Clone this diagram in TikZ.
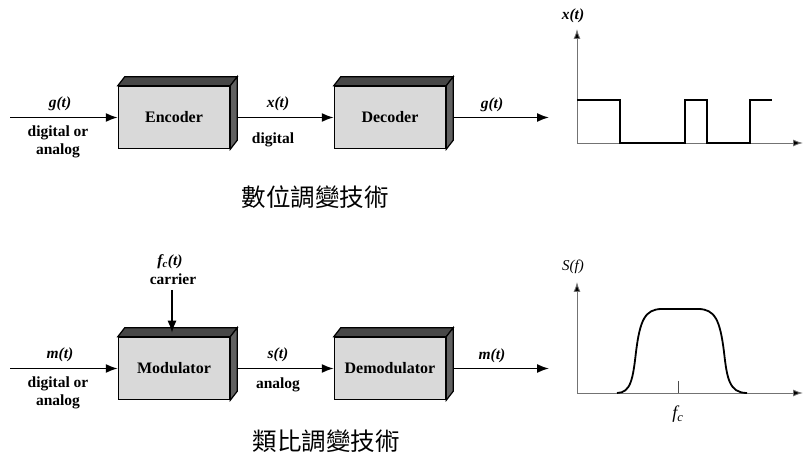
\documentclass[tikz,border=0pt]{standalone}
\usepackage{fontspec}
\setmainfont{Liberation Serif}
\newfontfamily\cjk{Noto Sans CJK TC}
\usetikzlibrary{arrows.meta}

\begin{document}
\begin{tikzpicture}[x=1pt,y=-1pt,
  blockface/.style={draw, line width=1.5pt, fill=black!15, minimum width=111pt,
    minimum height=62pt, inner sep=0pt, font=\fontsize{16}{18}\selectfont\bfseries},
  topface/.style={draw, line width=1.2pt, fill=black!72},
  sideface/.style={draw, line width=1.2pt, fill=black!62},
  sig/.style={line width=1.6pt, -{Latex[length=12pt,width=9pt]}},
  lbl/.style={font=\fontsize{15.5}{17}\selectfont\bfseries, align=center, inner sep=0pt},
  ilbl/.style={font=\fontsize{15.5}{17}\selectfont\bfseries\itshape, inner sep=0pt},
  axis/.style={line width=0.9pt, draw=black!55, -{Latex[length=10pt,width=7pt,fill=black]}},
  wave/.style={line width=1.8pt, line join=miter},
  title/.style={font=\cjk\fontsize{24.5}{26}\selectfont, inner sep=0pt}
]
\useasboundingbox (0,0) rectangle (807,454);

% ---------- digital modulation chain ----------
\node[blockface] (enc) at (174,117.5) {Encoder};
\node[blockface] (dec) at (390,117.5) {Decoder};
% ---------- analog modulation chain ----------
\node[blockface] (mod) at (174,368.5) {Modulator};
\node[blockface] (demod) at (390,368.5) {Demodulator};

% 3-D top and side faces of every block
\foreach \b in {enc,dec,mod,demod}{
  \filldraw[topface] (\b.north west) -- ++(7,-9) -- ([shift={(7,-9)}]\b.north east)
     -- (\b.north east) -- cycle;
  \filldraw[sideface] (\b.north east) -- ([shift={(7,-9)}]\b.north east)
     -- ([shift={(7,-9)}]\b.south east) -- (\b.south east) -- cycle;
}

% free ends of the signal lines
\coordinate (inA) at (10,117.5);
\coordinate (outA) at (549,117.5);
\coordinate (inB) at (10,368.5);
\coordinate (outB) at (549,368.5);
\coordinate (carrierTop) at (172,290);

% connectors, top chain
\draw[sig] (inA) -- (enc.west);
\draw[sig] ([xshift=7pt]enc.east) -- (dec.west);
\draw[sig] ([xshift=7pt]dec.east) -- (outA);
% connectors, bottom chain
\draw[sig] (inB) -- (mod.west);
\draw[sig] ([xshift=7pt]mod.east) -- (demod.west);
\draw[sig] ([xshift=7pt]demod.east) -- (outB);
\draw[sig] (carrierTop) -- ([shift={(-2,-4)}]mod.north);

% labels, top chain
\node[ilbl] (lg1) at (60,104) {g(t)};
\node[lbl] (ldo1) at (58,133) {digital or};
\node[lbl] (lan1) at (58,151) {analog};
\node[ilbl] (lx) at (278,104) {x(t)};
\node[lbl] (ldig) at (273,140) {digital};
\node[ilbl] (lg2) at (492,105) {g(t)};
% labels, bottom chain
\node[ilbl] (lfc) at (170,262) {f\textsubscript{c}(t)};
\node[lbl] (lcar) at (173,279) {carrier};
\node[ilbl] (lm1) at (60,355) {m(t)};
\node[lbl] (ldo2) at (58,384) {digital or};
\node[lbl] (lan2) at (58,402) {analog};
\node[ilbl] (ls) at (278,355) {s(t)};
\node[lbl] (lana) at (278,385) {analog};
\node[ilbl] (lm2) at (492,356) {m(t)};

% titles
\node[title] (t1) at (315,197) {數位調變技術};
\node[title] (t2) at (326,441) {類比調變技術};

% ---------- digital signal x(t) ----------
\coordinate (oA) at (577,143);
\draw[axis] (oA) -- (577,29);
\draw[axis] (oA) -- (803,143);
\node[ilbl] (axA) at (573,16) {x(t)};
\draw[wave] (577,100) -- (620,100) -- (620,143) -- (685,143) -- (685,100)
  -- (707,100) -- (707,143) -- (750,143) -- (750,100) -- (772,100);

% ---------- spectrum S(f) ----------
\coordinate (oB) at (577,393);
\draw[axis] (oB) -- (577,282);
\draw[axis] (oB) -- (803,393);
\node[font=\fontsize{15}{16}\selectfont\itshape, inner sep=0pt] (axB) at (573,267) {S(f)};
\draw[line width=0.8pt, black!70] (678,381) -- (678,393);
\node[font=\fontsize{18}{19}\selectfont\itshape, inner sep=0pt] (lfcB) at (678,414) {f\textsubscript{c}};
\draw[line width=1.8pt] (617,393) .. controls (631,393) and (633,378) .. (636,352)
  .. controls (640,320) and (645,309) .. (662,309) -- (698,309)
  .. controls (715,309) and (720,320) .. (724,352)
  .. controls (727,378) and (729,393) .. (747,393);
\end{tikzpicture}
\end{document}
